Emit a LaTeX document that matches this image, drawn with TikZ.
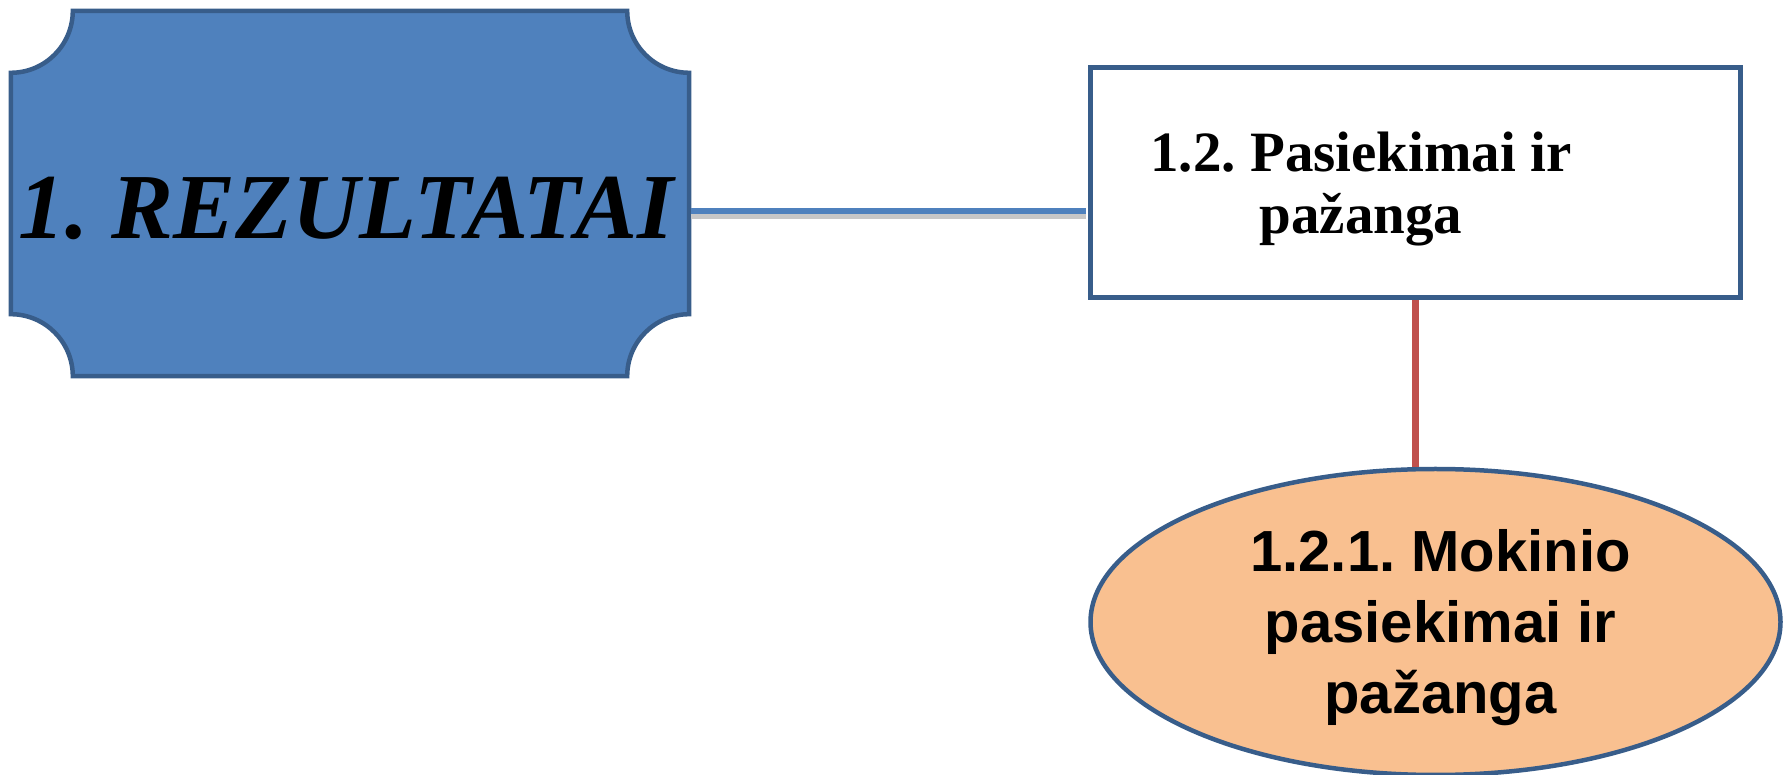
\documentclass[tikz,border=0pt]{standalone}
\usepackage{fontspec}
\setmainfont{Liberation Serif}
\newfontfamily\arialfont{Liberation Sans}
\usetikzlibrary{shapes.geometric,calc}
\definecolor{plaqueblue}{HTML}{4F81BD}
\definecolor{darkblue}{HTML}{385D8A}
\definecolor{linkred}{HTML}{C0504D}
\definecolor{ovalfill}{HTML}{F9C090}
\tikzset{
  plaque/.style={fill=plaqueblue, draw=darkblue, line width=4.5pt},
  boxnode/.style={draw=darkblue, fill=white, line width=5pt, minimum width=650pt, minimum height=230pt, inner sep=0pt},
  oval/.style={ellipse, draw=darkblue, fill=ovalfill, line width=4.5pt, minimum width=690pt, minimum height=306pt, inner sep=0pt, align=center, font=\arialfont\bfseries\fontsize{58}{71}\selectfont},
  bluelink/.style={draw=plaqueblue, line width=6.5pt},
  shadowlink/.style={draw=black!22, line width=5pt},
  redlink/.style={draw=linkred, line width=7pt}
}
\begin{document}
\frenchspacing
\begin{tikzpicture}[x=1pt,y=1pt]
\useasboundingbox (0,0) rectangle (1786,774);
\clip (0,0) rectangle (1786,774);
% plaque
\node[minimum width=678pt, minimum height=365pt, inner sep=0pt] (res) at (350,580.5) {};
\draw[plaque] ($(res.north west)+(62,0)$) -- ($(res.north east)+(-62,0)$)
  arc[start angle=180, end angle=270, radius=62pt]
  -- ($(res.south east)+(0,62)$)
  arc[start angle=90, end angle=180, radius=62pt]
  -- ($(res.south west)+(62,0)$)
  arc[start angle=0, end angle=90, radius=62pt]
  -- ($(res.north west)+(0,-62)$)
  arc[start angle=270, end angle=360, radius=62pt] -- cycle;
\node[anchor=base, inner sep=0pt, font=\bfseries\itshape\fontsize{93}{100}\selectfont] (restitle) at (346,535) {1. REZULTATAI};
% box
\node[boxnode] (ach) at (1415.5,591.5) {};
\node[align=center, inner sep=0pt, font=\bfseries\fontsize{57}{62}\selectfont] (achtext) at (1361,585) {1.2. Pasiekimai ir\\pažanga};
% ellipse
\node[oval] (stud) at (1435.5,152) {\rule{0pt}{54pt}\hspace{10pt}1.2.1. Mokinio\\\hspace{10pt}pasiekimai ir\\\hspace{10pt}pažanga};
% connectors
\coordinate (cy) at (0,563);
\draw[shadowlink] ($(res.east |- cy)+(2,-5.5)$) -- ($(ach.west |- cy)+(-2,-5.5)$);
\draw[bluelink] ($(res.east |- cy)+(2,0)$) -- ($(ach.west |- cy)+(-2,0)$);
\draw[redlink] (ach.south) -- (ach.south |- stud.north);
\end{tikzpicture}
\end{document}
